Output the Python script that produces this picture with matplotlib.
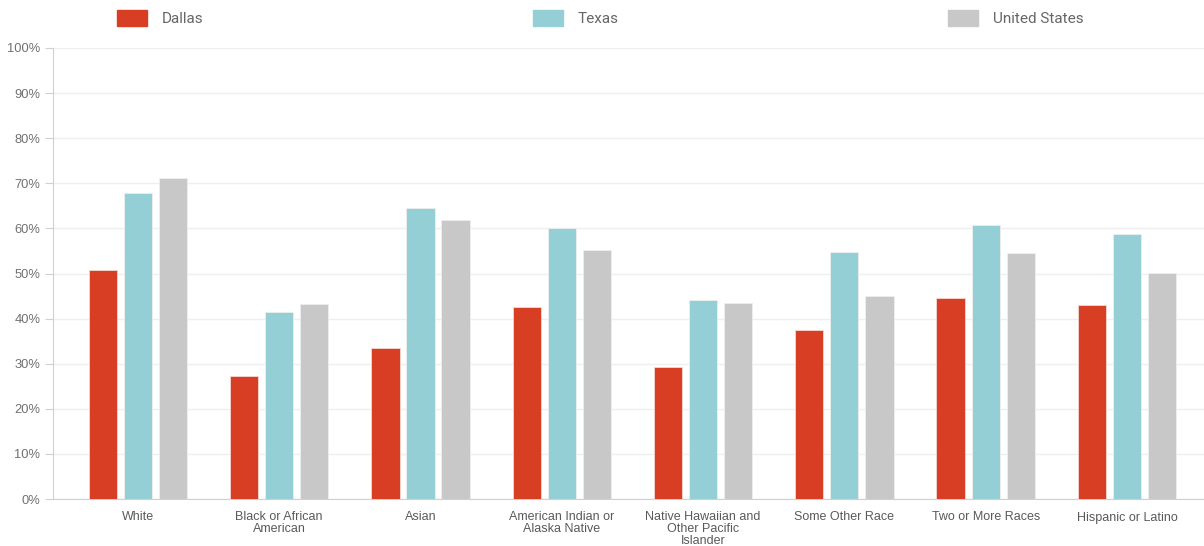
import numpy as np
import matplotlib.pyplot as plt
from matplotlib.patches import Rectangle

categories = ["White", "Black or African\nAmerican", "Asian", "American Indian or\nAlaska Native",
              "Native Hawaiian and\nOther Pacific\nIslander", "Some Other Race",
              "Two or More Races", "Hispanic or Latino"]
series_names = ["Dallas", "Texas", "United States"]
dallas = [50.8, 27.3, 33.5, 42.6, 29.3, 37.5, 44.6, 43.0]
texas = [67.8, 41.5, 64.5, 60.1, 44.1, 54.8, 60.8, 58.8]
united_states = [71.2, 43.2, 61.9, 55.2, 43.5, 45.0, 54.5, 50.1]
colors = ["#d73e24", "#95cfd6", "#c8c8c8"]

fig = plt.figure(figsize=(12.04, 5.46), dpi=100)
ax = fig.add_axes([53 / 1204, 1 - 499 / 546, 1 - 53 / 1204, 451 / 546])

x = np.arange(len(categories))
width = 0.2
step = 0.248
for i, (vals, col) in enumerate(zip([dallas, texas, united_states], colors)):
    ax.bar(x + (i - 1) * step, vals, width, color=col, edgecolor="#f4d8d2" if i == 0 else "#eeeeee",
           linewidth=0.6, zorder=3)

ax.set_xlim(-0.6, 7.545)
ax.set_ylim(0, 100)
ax.set_yticks(np.arange(0, 101, 10))
ax.set_yticklabels([f"{v}%" for v in range(0, 101, 10)])
ax.set_xticks(x)
ax.set_xticklabels(categories, linespacing=1.0)
ax.grid(axis="y", color="#efefef", linewidth=1, zorder=0)
ax.tick_params(axis="y", length=6, color="#d0d0d0", labelcolor="#707070", labelsize=9.3, pad=3)
ax.tick_params(axis="x", length=0, labelcolor="#5a5a5a", labelsize=9, pad=9)
for lab in ax.get_xticklabels():
    lab.set_family(["Liberation Sans", "DejaVu Sans"])
for lab in ax.get_yticklabels():
    lab.set_family(["Liberation Sans", "DejaVu Sans"])
for s in ["top", "right"]:
    ax.spines[s].set_visible(False)
ax.spines["left"].set_color("#d0d0d0")
ax.spines["bottom"].set_color("#d0d0d0")

# legend row across the top
legend_x = [117, 533, 948]
for name, col, lx in zip(series_names, colors, legend_x):
    fig.add_artist(Rectangle((lx / 1204, 1 - 26 / 546), 30 / 1204, 16 / 546,
                             transform=fig.transFigure, color=col))
    fig.text((lx + 45) / 1204, 1 - 19 / 546, name, ha="left", va="center",
             fontsize=11, color="#666666", family=["Roboto", "DejaVu Sans"])

fig.savefig("out.png", dpi=100)
